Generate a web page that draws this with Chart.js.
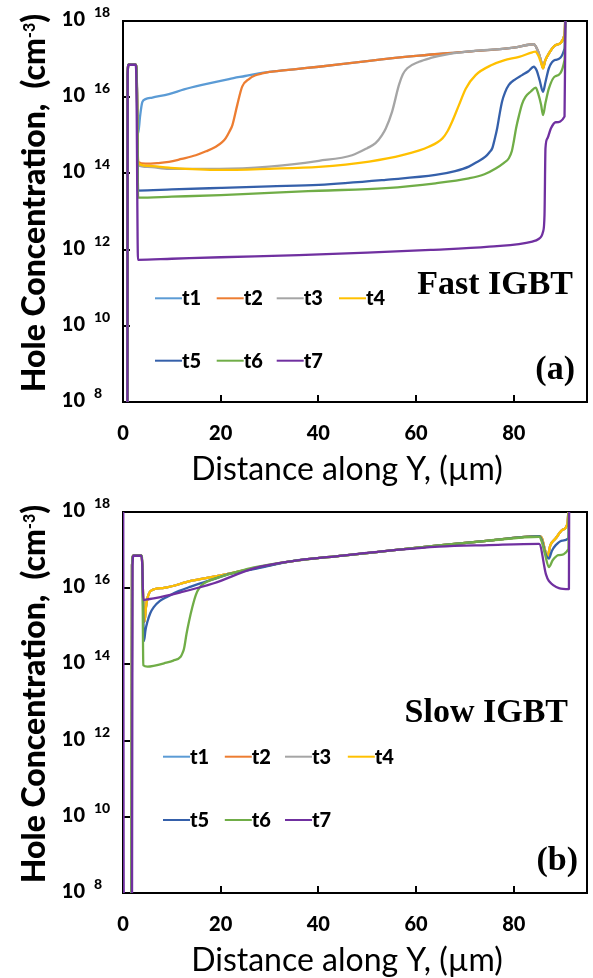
<!DOCTYPE html>
<html>
<head>
<meta charset="utf-8">
<script src="https://cdn.jsdelivr.net/npm/chart.js@4.4.1/dist/chart.umd.min.js"></script>
<style>
  html, body { margin: 0; padding: 0; background: #fff; overflow: hidden; }
  #wrap { position: relative; width: 593px; height: 978px; }
  canvas { position: absolute; left: 0; }
  #fast { top: 0; }
  #slow { top: 491px; }
</style>
</head>
<body>
<div id="wrap">
  <canvas id="fast" width="593" height="491"></canvas>
  <canvas id="slow" width="593" height="491"></canvas>
</div>
<script>
// Hole concentration profiles along Y at seven instants, fast and slow IGBT.
const SERIES = ['t1', 't2', 't3', 't4', 't5', 't6', 't7'];
const COLORS = ['#5B9BD5', '#ED7D31', '#A5A5A5', '#FFC000', '#3560AA', '#70AD47', '#7030A0'];
const X_TICKS = [0, 20, 40, 60, 80];          // µm
const Y_EXPONENTS = [8, 10, 12, 14, 16, 18];  // decades of cm^-3

// ---- (a) Fast IGBT : depth (µm) / hole concentration (cm^-3) ----
const FAST_T1_X = [0.9, 0.95, 1.15, 2.6, 2.8, 3.1, 3.5, 3.95, 4.6, 6, 9.4, 12.5, 16.2, 21.7, 25, 27.8, 30, 35, 40.1, 50, 60.6, 70, 80, 84.1, 85.0, 85.6, 86.0, 86.4, 87.2, 88.6, 90.4, 90.6];
const FAST_T1_Y = [7.9e7, 4.0e16, 7.1e16, 7.1e16, 4.0e16, 1.1e15, 3.2e15, 7.4e15, 8.9e15, 9.8e15, 1.2e16, 1.6e16, 2.1e16, 3.0e16, 3.6e16, 4.2e16, 4.6e16, 5.4e16, 6.3e16, 8.9e16, 1.23e17, 1.55e17, 2.0e17, 2.45e17, 1.58e17, 8.9e16, 5.75e16, 8.9e16, 1.41e17, 2.34e17, 4.27e17, 2.0e18];

const FAST_T2_X = [0.9, 0.95, 1.15, 2.6, 2.8, 3.1, 4.6, 7, 9.4, 12, 14.9, 17, 19.0, 20.3, 21.0, 21.8, 22.4, 23.4, 24.4, 25.8, 27, 28.5, 30, 35, 40.1, 50, 60.6, 70, 80, 84.1, 85.0, 85.6, 86.0, 86.4, 87.2, 88.6, 90.4, 90.6];
const FAST_T2_Y = [7.9e7, 4.0e16, 7.1e16, 7.1e16, 4.0e16, 2.0e14, 1.8e14, 1.86e14, 2.0e14, 2.4e14, 3.0e14, 3.8e14, 5.0e14, 6.6e14, 8.3e14, 1.26e15, 1.86e15, 6.3e15, 1.9e16, 3.0e16, 3.7e16, 4.2e16, 4.6e16, 5.4e16, 6.3e16, 8.9e16, 1.23e17, 1.55e17, 2.0e17, 2.45e17, 1.58e17, 8.9e16, 5.75e16, 8.9e16, 1.41e17, 2.34e17, 4.27e17, 2.0e18];

const FAST_T3_X = [0.9, 0.95, 1.15, 2.6, 2.8, 3.1, 5, 9.4, 19.7, 29.9, 40.1, 46.9, 50, 51.7, 53.0, 53.8, 55.1, 56.5, 57.3, 58.2, 60.6, 63, 66.1, 70, 80, 84.1, 85.0, 85.6, 86.0, 86.4, 87.2, 88.6, 90.4, 90.6];
const FAST_T3_Y = [7.9e7, 4.0e16, 7.1e16, 7.1e16, 4.0e16, 1.66e14, 1.48e14, 1.32e14, 1.32e14, 1.51e14, 2.14e14, 3.0e14, 4.6e14, 6.2e14, 1.0e15, 1.51e15, 4.2e15, 2.1e16, 4.0e16, 5.75e16, 8.5e16, 1.07e17, 1.32e17, 1.55e17, 2.0e17, 2.45e17, 1.58e17, 8.9e16, 5.75e16, 8.9e16, 1.41e17, 2.34e17, 4.27e17, 2.0e18];

const FAST_T4_X = [0.9, 0.95, 1.15, 2.6, 2.8, 3.1, 5, 9.4, 19.7, 29.9, 40.1, 50.4, 57.2, 62.6, 65.4, 66.5, 67.4, 68.8, 70.2, 72.2, 75.6, 78, 81.1, 83.8, 84.4, 85.0, 85.6, 86.0, 86.4, 87.2, 88.6, 90.4, 90.6];
const FAST_T4_Y = [7.9e7, 4.0e16, 7.1e16, 7.1e16, 4.0e16, 1.86e14, 1.58e14, 1.41e14, 1.23e14, 1.32e14, 1.48e14, 2.04e14, 3.0e14, 5.0e14, 8.3e14, 1.32e15, 2.3e15, 6.3e15, 1.7e16, 3.8e16, 7.1e16, 9.3e16, 1.15e17, 1.51e17, 1.58e17, 1.26e17, 7.9e16, 5.75e16, 8.9e16, 1.41e17, 2.34e17, 4.27e17, 2.0e18];

const FAST_T5_X = [0.9, 0.95, 1.15, 2.6, 2.8, 3.1, 10, 20, 30, 40.1, 53.8, 64, 68, 70.8, 72.5, 74.2, 75.0, 75.6, 76.1, 76.6, 77.1, 77.6, 78.2, 79.0, 80.3, 81.7, 83.0, 84.1, 84.7, 85.3, 86.0, 86.5, 87.2, 88.5, 90.4, 90.6];
const FAST_T5_Y = [7.9e7, 4.0e16, 7.1e16, 7.1e16, 4.0e16, 3.55e13, 3.8e13, 4.17e13, 4.57e13, 5.0e13, 6.8e13, 9.1e13, 1.15e14, 1.51e14, 2.0e14, 2.75e14, 3.55e14, 4.57e14, 7.9e14, 1.51e15, 3.55e15, 7.6e15, 1.32e16, 2.1e16, 2.95e16, 3.8e16, 4.8e16, 6.3e16, 5.0e16, 2.8e16, 1.38e16, 2.5e16, 5.75e16, 9.5e16, 1.9e17, 2.0e18];

const FAST_T6_X = [0.9, 0.95, 1.15, 2.6, 2.8, 3.1, 10, 20, 30, 40.1, 53.8, 64, 70.8, 74, 76.3, 78, 79.0, 79.6, 80.0, 80.5, 81.1, 81.7, 82.4, 83.5, 84.5, 85.0, 85.6, 86.0, 86.5, 87.2, 88.5, 90.4, 90.6];
const FAST_T6_Y = [7.9e7, 4.0e16, 7.1e16, 7.1e16, 4.0e16, 2.3e13, 2.45e13, 2.7e13, 3.1e13, 3.5e13, 4.1e13, 5.5e13, 7.4e13, 9.5e13, 1.35e14, 1.9e14, 2.5e14, 3.8e14, 6.8e14, 1.58e15, 3.4e15, 6.6e15, 1.02e16, 1.41e16, 1.78e16, 1.26e16, 6.3e15, 3.4e15, 7.1e15, 1.7e16, 3.55e16, 9.5e16, 2.0e18];

const FAST_T7_X = [0.9, 0.95, 1.15, 2.55, 2.72, 3.07, 10, 20, 36, 50, 63, 75, 83.8, 85.1, 86.0, 86.3, 86.5, 86.9, 87.6, 88.6, 90.4, 90.6];
const FAST_T7_Y = [7.9e7, 4.0e16, 7.1e16, 7.1e16, 4.0e16, 5.4e11, 5.75e11, 6.3e11, 7.2e11, 8.3e11, 9.8e11, 1.2e12, 1.62e12, 1.9e12, 2.95e12, 8.1e12, 4.6e14, 8.3e14, 1.51e15, 2.2e15, 3.1e15, 2.0e18];

// ---- (b) Slow IGBT ----
// t1 to t3 run under t4 over the whole depth.
const SLOW_T4_X = [1.75, 1.85, 2.1, 3.8, 3.95, 4.15, 4.4, 4.7, 5.0, 5.7, 8.4, 13.9, 18.6, 26.8, 34, 45, 55, 64.7, 74.9, 85.2, 85.8, 86.4, 86.9, 87.5, 88.6, 90.0, 91.0, 91.3];
const SLOW_T4_Y = [7.9e7, 4.0e16, 7.1e16, 7.1e16, 4.0e16, 4.0e15, 1.32e15, 3.2e15, 5.4e15, 8.5e15, 1.02e16, 1.55e16, 2.0e16, 3.3e16, 5.0e16, 7.2e16, 9.8e16, 1.32e17, 1.78e17, 2.34e17, 2.0e17, 1.0e17, 6.8e16, 1.35e17, 2.04e17, 3.4e17, 5.0e17, 2.0e18];

const SLOW_T5_X = [1.75, 1.85, 2.1, 3.8, 3.95, 4.2, 4.3, 4.6, 5.0, 5.6, 6.3, 7.5, 9.1, 11.5, 13.9, 18.6, 22, 26.8, 34, 45, 55, 64.7, 74.9, 85.2, 85.8, 86.4, 87.2, 87.8, 88.6, 90.0, 91.2, 91.3];
const SLOW_T5_Y = [7.9e7, 4.0e16, 7.1e16, 7.1e16, 4.0e16, 1.0e15, 4.1e14, 7.9e14, 1.32e15, 2.24e15, 3.2e15, 4.6e15, 6.0e15, 8.5e15, 1.1e16, 1.74e16, 2.4e16, 3.16e16, 5.0e16, 7.2e16, 9.8e16, 1.32e17, 1.78e17, 2.34e17, 1.78e17, 8.9e16, 6.0e16, 9.5e16, 1.35e17, 1.78e17, 2.04e17, 2.0e18];

const SLOW_T6_X = [1.75, 1.85, 2.1, 3.8, 3.95, 4.1, 4.15, 5.0, 6.5, 8.4, 10.3, 11.8, 12.2, 12.5, 13.0, 13.5, 14.2, 14.9, 15.7, 16.6, 18.3, 20.0, 23, 26.8, 34, 45, 55, 64.7, 74.9, 85.2, 85.8, 86.4, 87.2, 88.0, 89.2, 91.2, 91.3];
const SLOW_T6_Y = [7.9e7, 4.0e16, 7.1e16, 7.1e16, 4.0e16, 3.2e14, 9.5e13, 8.7e13, 9.3e13, 1.07e14, 1.26e14, 1.58e14, 2.0e14, 2.6e14, 6.3e14, 1.32e15, 3.2e15, 6.6e15, 1.05e16, 1.35e16, 1.7e16, 2.0e16, 2.6e16, 3.5e16, 5.0e16, 7.2e16, 9.8e16, 1.32e17, 1.78e17, 2.24e17, 1.58e17, 7.9e16, 3.6e16, 5.5e16, 7.4e16, 1.07e17, 2.0e18];

const SLOW_T7_X = [0.05, 0.15, 1.85, 1.95, 2.15, 3.8, 3.95, 4.15, 5.0, 6.3, 11.8, 18.6, 26.8, 34, 45, 55, 64.7, 74.9, 85.2, 86.6, 87.2, 91.3, 91.35];
const SLOW_T7_Y = [2.0e18, 7.9e7, 7.9e7, 4.0e16, 7.1e16, 7.1e16, 4.0e16, 4.9e15, 5.1e15, 5.4e15, 7.8e15, 1.35e16, 3.3e16, 5.0e16, 7.2e16, 9.8e16, 1.23e17, 1.35e17, 1.45e17, 2.3e16, 1.55e16, 9.5e15, 2.0e18];

// ---- layout ----
const FONT = 'Lato';
const HEAVY = '900';
const SERIF = '"Liberation Serif", "Times New Roman", serif';

const PANELS = [
  {
    canvas: 'fast',
    series: [[FAST_T1_X, FAST_T1_Y], [FAST_T2_X, FAST_T2_Y], [FAST_T3_X, FAST_T3_Y], [FAST_T4_X, FAST_T4_Y],
             [FAST_T5_X, FAST_T5_Y], [FAST_T6_X, FAST_T6_Y], [FAST_T7_X, FAST_T7_Y]],
    name: 'Fast IGBT', nameRight: 573, nameBase: 294,
    tag: '(a)', tagRight: 575, tagBase: 379,
    legendX: [155, 216.7, 276.7, 339], legendY: [298.3, 360.7]
  },
  {
    canvas: 'slow',
    series: [[SLOW_T4_X, SLOW_T4_Y], [SLOW_T4_X, SLOW_T4_Y], [SLOW_T4_X, SLOW_T4_Y], [SLOW_T4_X, SLOW_T4_Y],
             [SLOW_T5_X, SLOW_T5_Y], [SLOW_T6_X, SLOW_T6_Y], [SLOW_T7_X, SLOW_T7_Y]],
    name: 'Slow IGBT', nameRight: 568, nameBase: 231,
    tag: '(b)', tagRight: 578, tagBase: 379,
    legendX: [163, 224.8, 285, 347.8], legendY: [265.7, 329]
  }
];

function decorPlugin(panel) {
  return {
    id: 'panelDecor',
    beforeDatasetsDraw(chart) {
      const { ctx, chartArea: a, scales: { x, y } } = chart;
      ctx.save();
      ctx.strokeStyle = '#000';
      ctx.lineWidth = 2;
      ctx.strokeRect(a.left, a.top, a.right - a.left, a.bottom - a.top);
      ctx.beginPath();
      X_TICKS.forEach(v => {
        const px = Math.round(x.getPixelForValue(v));
        ctx.moveTo(px, a.bottom); ctx.lineTo(px, a.bottom - 7);
      });
      Y_EXPONENTS.forEach(e => {
        const py = Math.round(y.getPixelForValue(Math.pow(10, e)));
        ctx.moveTo(a.left, py); ctx.lineTo(a.left + 7, py);
      });
      ctx.stroke();
      ctx.restore();
    },
    afterDraw(chart) {
      const { ctx, scales: { y } } = chart;
      ctx.save();
      ctx.fillStyle = '#000';
      ctx.textBaseline = 'alphabetic';

      // y tick labels: 10 with the exponent raised
      Y_EXPONENTS.forEach(e => {
        const py = y.getPixelForValue(Math.pow(10, e));
        ctx.font = `${HEAVY} 20px ${FONT}`;
        ctx.textAlign = 'right';
        ctx.fillText('10', 85, py + 5);
        ctx.font = `${HEAVY} 14px ${FONT}`;
        ctx.textAlign = 'left';
        ctx.fillText(String(e), 94, py - 4);
      });

      // y axis title, rotated, with superscript unit
      const parts = [
        { t: 'Hole Concentration,  (cm', size: 32, rise: 0 },
        { t: '-3', size: 16, rise: 10 },
        { t: ')', size: 32, rise: 0 }
      ];
      let total = 0;
      parts.forEach(p => { ctx.font = `${HEAVY} ${p.size}px ${FONT}`; p.w = ctx.measureText(p.t).width; total += p.w; });
      ctx.save();
      ctx.translate(45, 203);
      ctx.rotate(-Math.PI / 2);
      ctx.textAlign = 'left';
      let cx = -total / 2;
      parts.forEach(p => { ctx.font = `${HEAVY} ${p.size}px ${FONT}`; ctx.fillText(p.t, cx, -p.rise); cx += p.w; });
      ctx.restore();

      // x axis title
      ctx.font = `32px ${FONT}`;
      ctx.textAlign = 'center';
      ctx.fillText('Distance along Y, (\u00B5m)', 347, 480);

      // legend, two rows
      chart.data.datasets.forEach((ds, i) => {
        const row = i < 4 ? 0 : 1;
        const lx = panel.legendX[row === 0 ? i : i - 4];
        const ly = panel.legendY[row];
        ctx.strokeStyle = ds.borderColor;
        ctx.lineWidth = 2;
        ctx.beginPath();
        ctx.moveTo(lx, ly); ctx.lineTo(lx + 27, ly);
        ctx.stroke();
        ctx.font = `${HEAVY} 20px ${FONT}`;
        ctx.textAlign = 'left';
        ctx.fillText(ds.label, lx + 27, ly + 7);
      });

      // device name and panel tag
      ctx.font = `bold 34px ${SERIF}`;
      ctx.textAlign = 'right';
      ctx.fillText(panel.name, panel.nameRight, panel.nameBase);
      ctx.fillText(panel.tag, panel.tagRight, panel.tagBase);
      ctx.restore();
    }
  };
}

function buildPanel(panel) {
  const datasets = panel.series.map(([xs, ys], i) => ({
    label: SERIES[i],
    data: xs.map((x, k) => ({ x: x, y: ys[k] })),
    borderColor: COLORS[i],
    backgroundColor: COLORS[i],
    borderWidth: 2.3,
    pointRadius: 0,
    cubicInterpolationMode: 'monotone',
    fill: false,
    borderJoinStyle: 'round',
    borderCapStyle: 'round',
    order: SERIES.length - 1 - i
  }));

  new Chart(document.getElementById(panel.canvas), {
    type: 'line',
    data: { datasets },
    options: {
      responsive: false,
      animation: false,
      devicePixelRatio: 1,
      layout: { padding: { top: 21, right: 6, left: 0, bottom: 0 } },
      plugins: { legend: { display: false }, tooltip: { enabled: false } },
      scales: {
        x: {
          type: 'linear',
          min: 0,
          max: 95,
          afterBuildTicks: s => { s.ticks = X_TICKS.map(v => ({ value: v })); },
          afterFit: s => { s.height = 89; },
          ticks: { color: '#000', font: { family: FONT, size: 20, weight: HEAVY }, padding: 12, maxRotation: 0 },
          grid: { display: false },
          border: { display: false }
        },
        y: {
          type: 'logarithmic',
          min: 1e8,
          max: 1e18,
          afterBuildTicks: s => { s.ticks = Y_EXPONENTS.map(e => ({ value: Math.pow(10, e) })); },
          afterFit: s => { s.width = 123; },
          ticks: { display: false },
          grid: { display: false },
          border: { display: false }
        }
      }
    },
    plugins: [decorPlugin(panel)]
  });
}

const ready = (document.fonts && document.fonts.load)
  ? Promise.all([
      document.fonts.load(`${HEAVY} 20px ${FONT}`),
      document.fonts.load(`bold 20px ${FONT}`),
      document.fonts.load(`20px ${FONT}`)
    ]).catch(() => {})
  : Promise.resolve();
ready.then(() => PANELS.forEach(buildPanel));
</script>
</body>
</html>
